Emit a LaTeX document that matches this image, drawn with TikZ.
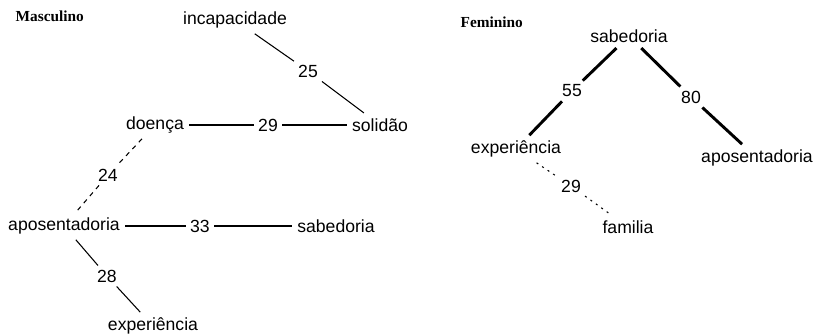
\documentclass[tikz,border=0pt]{standalone}
\usepackage{fontspec}
\setmainfont{Liberation Serif}
\setsansfont{Liberation Sans}
\usetikzlibrary{arrows.meta, positioning}

\begin{document}
\begin{tikzpicture}[
x=0.75pt, y=-0.75pt,
term/.style={font=\sffamily\fontsize{13.2}{15}\selectfont, inner sep=4pt},
weight/.style={font=\sffamily\fontsize{13.2}{15}\selectfont, inner sep=3pt},
title/.style={font=\bfseries\fontsize{11.5}{13}\selectfont, anchor=west},
weaklink/.style={line width=0.8pt},
stronglink/.style={line width=2.2pt},
dashedlink/.style={line width=0.8pt, dash pattern=on 3.5pt off 3.5pt},
dottedlink/.style={line width=0.8pt, dash pattern=on 1.5pt off 3.5pt}
]
\useasboundingbox (0,0) rectangle (818,334);

% Masculino
\node[title] (masc) at (11,16) {Masculino};
\node[term] (incap) at (235,20) {incapacidade};
\node[weight] (w25) at (308,71) {25};
\node[term] (doenca) at (155,125) {doença};
\node[weight] (w29) at (268,125) {29};
\node[term] (solidao) at (380,125) {solidão};
\node[weight] (w24) at (108,175) {24};
\node[term] (apos) at (64,226) {aposentadoria};
\node[weight] (w33) at (200,226) {33};
\node[term] (sabed) at (336,226) {sabedoria};
\node[weight] (w28) at (107,276) {28};
\node[term] (exper) at (153,326) {experiência};

\draw[weaklink] (incap) -- (w25);
\draw[weaklink] (w25) -- (solidao);
\draw[weaklink] (doenca) -- (w29);
\draw[weaklink] (w29) -- (solidao);
\draw[dashedlink] (doenca) -- (w24);
\draw[dashedlink] (w24) -- (apos);
\draw[stronglink] (apos.east) -- (w33);
\draw[stronglink] (w33) -- (sabed.west);
\draw[weaklink] (apos) -- (w28);
\draw[weaklink] (w28) -- (exper);

% Feminino
\node[title] (fem) at (456,22) {Feminino};
\node[term] (fsabed) at (629,36) {sabedoria};
\node[weight] (w55) at (572,91) {55};
\node[weight] (w80) at (691,97) {80};
\node[term] (fexper) at (516,149) {experiência};
\node[term] (fapos) at (757,158) {aposentadoria};
\node[weight] (fw29) at (571,186) {29};
\node[term] (famil) at (628,227) {familia};

\draw[stronglink] (fsabed) -- (w55);
\draw[stronglink] (w55) -- (fexper);
\draw[stronglink] (fsabed) -- (w80);
\draw[stronglink] (w80) -- (fapos);
\draw[dottedlink] (fexper) -- (fw29);
\draw[dottedlink] (fw29) -- (famil);

\end{tikzpicture}
\end{document}
